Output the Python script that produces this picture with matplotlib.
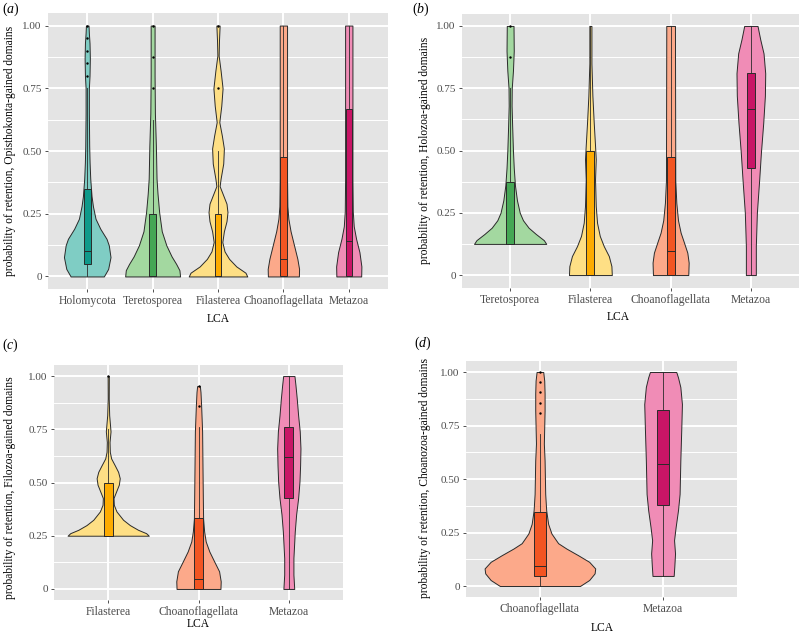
import matplotlib

matplotlib.use("Agg")
import matplotlib.pyplot as plt
from matplotlib.patches import Rectangle

plt.rcParams["font.family"] = ["Liberation Serif", "DejaVu Serif"]
plt.rcParams["mathtext.fontset"] = "custom"
plt.rcParams["mathtext.rm"] = "Liberation Serif"
plt.rcParams["mathtext.it"] = "Liberation Serif:italic"

FIG_W, FIG_H = 799, 635

# light fill for the violin, dark fill for the box
VIOLIN_COLOR = {
  "Holomycota": "#7fcdc4",
  "Teretosporea": "#a3d8a0",
  "Filasterea": "#fedf85",
  "Choanoflagellata": "#fca98a",
  "Metazoa": "#f08cb6",
}
BOX_COLOR = {
  "Holomycota": "#0f9a8a",
  "Teretosporea": "#45a755",
  "Filasterea": "#fdab00",
  "Choanoflagellata": "#f25522",
  "Metazoa": "#c81566",
}

YTICKS = [0, 0.25, 0.5, 0.75, 1.0]
YTICK_LABELS = ["0", "0.25", "0.50", "0.75", "1.00"]

# ---- panel (a): Opisthokonta-gained domains ----
A_LCA = ["Holomycota", "Teretosporea", "Filasterea", "Choanoflagellata", "Metazoa"]
# violin outline: retention level and half width (in category units)
A_Y = [
  [0, 0.03, 0.077, 0.124, 0.15, 0.19, 0.23, 0.28, 0.32, 0.39, 0.455, 0.52, 0.65, 0.75, 0.8, 0.87, 0.93, 0.97, 1.0],
  [0, 0.025, 0.05, 0.08, 0.124, 0.18, 0.256, 0.33, 0.39, 0.52, 0.65, 0.8, 1.0],
  [0, 0.015, 0.04, 0.07, 0.1, 0.137, 0.18, 0.22, 0.256, 0.29, 0.33, 0.36, 0.39, 0.45, 0.51, 0.56, 0.615,
   0.68, 0.75, 0.82, 0.88, 0.94, 1.0],
  [0, 0.03, 0.07, 0.124, 0.18, 0.23, 0.28, 0.39, 0.5, 1.0],
  [0, 0.04, 0.097, 0.15, 0.2, 0.26, 0.39, 1.0],
]
A_W = [
  [0.254, 0.32, 0.356, 0.33, 0.295, 0.2, 0.127, 0.087, 0.066, 0.046, 0.036, 0.03, 0.025, 0.025, 0.035, 0.04, 0.035, 0.025, 0.02],
  [0.42, 0.41, 0.36, 0.29, 0.21, 0.14, 0.10, 0.075, 0.06, 0.05, 0.035, 0.03, 0.03],
  [0.448, 0.42, 0.28, 0.17, 0.1, 0.066, 0.09, 0.13, 0.145, 0.13, 0.07, 0.025, 0.04, 0.08, 0.09, 0.06, 0.02,
   0.05, 0.07, 0.04, 0.01, 0.015, 0.025],
  [0.237, 0.24, 0.214, 0.163, 0.11, 0.076, 0.061, 0.056, 0.056, 0.056],
  [0.19, 0.193, 0.163, 0.112, 0.076, 0.061, 0.056, 0.056],
]
# lower whisker, q1, median, q3, upper whisker
A_STATS = [
  (0, 0.05, 0.10, 0.35, 0.75),
  (0, 0, 0, 0.25, 0.625),
  (0, 0, 0, 0.25, 0.5),
  (0, 0, 0.07, 0.475, 1.0),
  (0, 0, 0.143, 0.667, 1.0),
]
A_OUTLIERS = [[0.8, 0.85, 0.9, 0.95, 1.0], [0.75, 0.875, 1.0], [0.75, 1.0], [], []]

# ---- panel (b): Holozoa-gained domains ----
B_LCA = ["Teretosporea", "Filasterea", "Choanoflagellata", "Metazoa"]
B_Y = [
  [0.125, 0.14, 0.165, 0.19, 0.22, 0.25, 0.3, 0.36, 0.43, 0.5, 0.6, 0.68, 0.75, 0.82, 0.9, 1.0],
  [0, 0.036, 0.076, 0.116, 0.157, 0.21, 0.277, 0.384, 0.465, 0.52, 0.61, 0.72, 0.85, 1.0],
  [0, 0.05, 0.09, 0.13, 0.17, 0.22, 0.29, 0.38, 1.0],
  [0, 0.116, 0.25, 0.384, 0.49, 0.61, 0.72, 0.81, 0.89, 0.946, 1.0],
]
B_W = [
  [0.45, 0.42, 0.32, 0.23, 0.16, 0.12, 0.085, 0.06, 0.045, 0.035, 0.025, 0.018, 0.02, 0.035, 0.045, 0.042],
  [0.267, 0.262, 0.23, 0.167, 0.117, 0.083, 0.067, 0.058, 0.067, 0.058, 0.042, 0.025, 0.013, 0.013],
  [0.22, 0.225, 0.208, 0.167, 0.125, 0.092, 0.071, 0.058, 0.054],
  [0.062, 0.062, 0.075, 0.104, 0.125, 0.154, 0.175, 0.179, 0.158, 0.117, 0.083],
]
B_STATS = [
  (0.125, 0.125, 0.125, 0.375, 0.75),
  (0, 0, 0, 0.5, 1.0),
  (0, 0, 0.096, 0.475, 1.0),
  (0, 0.43, 0.667, 0.81, 1.0),
]
B_OUTLIERS = [[0.875, 1.0], [], [], []]

# ---- panel (c): Filozoa-gained domains ----
C_LCA = ["Filasterea", "Choanoflagellata", "Metazoa"]
C_Y = [
  [0.25, 0.262, 0.278, 0.30, 0.325, 0.364, 0.395, 0.427, 0.458, 0.49, 0.52, 0.55, 0.58, 0.613, 0.644,
   0.69, 0.74, 0.816, 0.894, 1.0],
  [0, 0.036, 0.083, 0.13, 0.176, 0.223, 0.27, 0.33, 0.426, 0.58, 0.74, 0.863, 0.925, 0.953],
  [0, 0.067, 0.145, 0.27, 0.35, 0.426, 0.504, 0.58, 0.66, 0.74, 0.816, 0.894, 0.956, 1.0],
]
C_W = [
  [0.45, 0.42, 0.33, 0.24, 0.165, 0.092, 0.0625, 0.059, 0.088, 0.118, 0.128, 0.11, 0.074, 0.033, 0.018,
   0.015, 0.026, 0.011, 0.006, 0.007],
  [0.243, 0.246, 0.228, 0.173, 0.12, 0.08, 0.0625, 0.051, 0.048, 0.044, 0.04, 0.029, 0.022, 0.015],
  [0.06, 0.051, 0.051, 0.066, 0.081, 0.103, 0.118, 0.125, 0.129, 0.121, 0.103, 0.088, 0.074, 0.0625],
]
C_STATS = [
  (0.25, 0.25, 0.25, 0.5, 0.75),
  (0, 0, 0.047, 0.333, 0.76),
  (0, 0.429, 0.619, 0.763, 1.0),
]
C_OUTLIERS = [[1.0], [0.857, 0.952], []]

# ---- panel (d): Choanozoa-gained domains ----
D_LCA = ["Choanoflagellata", "Metazoa"]
D_Y = [
  [0, 0.028, 0.059, 0.082, 0.113, 0.144, 0.175, 0.2, 0.245, 0.29, 0.354, 0.43, 0.587, 0.665, 0.742, 0.82,
   0.9, 0.96, 1.0],
  [0.047, 0.09, 0.152, 0.214, 0.276, 0.354, 0.43, 0.587, 0.742, 0.85, 0.93, 0.975, 1.0],
]
D_W = [
  [0.325, 0.40, 0.444, 0.449, 0.40, 0.31, 0.215, 0.148, 0.094, 0.067, 0.051, 0.043, 0.038, 0.032, 0.035,
   0.038, 0.038, 0.035, 0.027],
  [0.086, 0.091, 0.097, 0.089, 0.102, 0.121, 0.134, 0.14, 0.148, 0.153, 0.14, 0.121, 0.107],
]
D_STATS = [
  (0, 0.048, 0.095, 0.345, 0.711),
  (0.047, 0.38, 0.571, 0.821, 1.0),
]
D_OUTLIERS = [[0.81, 0.857, 0.905, 0.952, 1.0], []]


def px_axes(fig, x0, y0, x1, y1):
  return fig.add_axes([x0 / FIG_W, 1 - y1 / FIG_H, (x1 - x0) / FIG_W, (y1 - y0) / FIG_H])


def px_text(fig, x, y, s, **kwargs):
  fig.text(x / FIG_W, 1 - y / FIG_H, s, **kwargs)


def draw_panel(ax, lca, ys, ws, stats, outliers):
  ax.set_facecolor("#e4e4e4")
  for side in ax.spines.values():
    side.set_visible(False)
  positions = list(range(1, len(lca) + 1))
  ax.set_xlim(0.4, len(lca) + 0.6)
  ax.set_ylim(-0.05, 1.05)

  for y in [0.125, 0.375, 0.625, 0.875]:
    ax.axhline(y, color="white", linewidth=0.7, zorder=0)
  for y in YTICKS:
    ax.axhline(y, color="white", linewidth=1.4, zorder=0)
  for x in positions:
    ax.axvline(x, color="white", linewidth=1.4, zorder=0)

  edge = "#2a2a2a"
  for x, name, y, w, st, outs in zip(positions, lca, ys, ws, stats, outliers):
    left = [x - v for v in w]
    right = [x + v for v in w]
    ax.fill_betweenx(y, left, right, facecolor=VIOLIN_COLOR[name], edgecolor=edge, linewidth=0.7, zorder=2)
    lo, q1, med, q3, hi = st
    ax.plot([x, x], [lo, q1], color=edge, linewidth=0.6, zorder=3)
    ax.plot([x, x], [q3, hi], color=edge, linewidth=0.6, zorder=3)
    ax.add_patch(Rectangle((x - 0.05, q1), 0.1, q3 - q1, facecolor=BOX_COLOR[name],
                           edgecolor=edge, linewidth=0.7, zorder=4))
    ax.plot([x - 0.05, x + 0.05], [med, med], color=edge, linewidth=0.7, zorder=5)
    if outs:
      ax.scatter([x] * len(outs), outs, s=3, color="black", linewidths=0, zorder=6)

  ax.set_xticks(positions)
  ax.set_xticklabels(lca, fontsize=8.4, color="#4d4d4d")
  ax.set_yticks(YTICKS)
  ax.set_yticklabels(YTICK_LABELS, fontsize=8.0, color="#4d4d4d")
  ax.tick_params(axis="both", length=2.5, width=0.6, color="#333333", pad=2)


fig = plt.figure(figsize=(FIG_W / 100, FIG_H / 100), dpi=100)

ax_a = px_axes(fig, 48, 13, 388, 289)
draw_panel(ax_a, A_LCA, A_Y, A_W, A_STATS, A_OUTLIERS)
ax_b = px_axes(fig, 462, 13.5, 799, 287.5)
draw_panel(ax_b, B_LCA, B_Y, B_W, B_STATS, B_OUTLIERS)
ax_c = px_axes(fig, 54, 365.4, 343, 599.6)
draw_panel(ax_c, C_LCA, C_Y, C_W, C_STATS, C_OUTLIERS)
ax_d = px_axes(fig, 466, 361.3, 737, 596.7)
draw_panel(ax_d, D_LCA, D_Y, D_W, D_STATS, D_OUTLIERS)

label_kw = dict(fontsize=8.3, ha="center", va="center")
px_text(fig, 10, 151, "probability of retention, Opisthokonta-gained domains", rotation=90, **label_kw)
px_text(fig, 425, 150, "probability of retention, Holozoa-gained domains", rotation=90, **label_kw)
px_text(fig, 10, 488, "probability of retention, Filozoa-gained domains", rotation=90, **label_kw)
px_text(fig, 425, 478, "probability of retention, Choanozoa-gained domains", rotation=90, **label_kw)

px_text(fig, 218, 319, "LCA", **label_kw)
px_text(fig, 618, 317, "LCA", **label_kw)
px_text(fig, 198, 624, "LCA", **label_kw)
px_text(fig, 602, 628, "LCA", **label_kw)

panel_kw = dict(fontsize=10, ha="left", va="center")
for x, y, letter in [(2, 9, "a"), (412, 9, "b"), (2, 345, "c"), (414, 343, "d")]:
  px_text(fig, x, y, "(" + r"$\mathit{" + letter + "}$" + ")", **panel_kw)

fig.savefig("out.png", dpi=100)
